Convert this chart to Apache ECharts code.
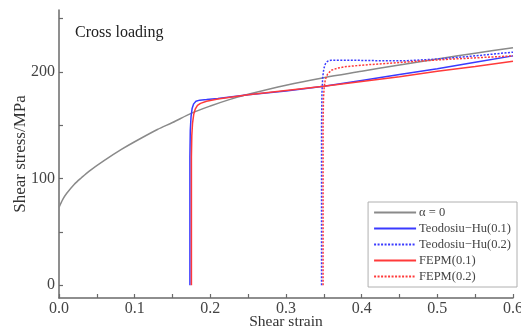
<!DOCTYPE html>
<html>
<head>
<meta charset="utf-8">
<script src="https://cdn.jsdelivr.net/npm/echarts@6/dist/echarts.min.js"></script>
<style>
  html, body { margin: 0; padding: 0; background: #fff; }
  #chart { width: 521px; height: 334px; }
</style>
</head>
<body>
<div id="chart"></div>
<script>
// values
const seriesNames = ["\u03b1 = 0", "Teodosiu\u2212Hu(0.1)", "Teodosiu\u2212Hu(0.2)", "FEPM(0.1)", "FEPM(0.2)"];

const alphaStrain = [0, 0.005, 0.01, 0.02, 0.03, 0.04, 0.06, 0.083, 0.1, 0.13, 0.15, 0.176, 0.2, 0.225, 0.25, 0.3, 0.35, 0.4, 0.45, 0.5, 0.55, 0.6];
const alphaStress = [73, 80.5, 86, 94.5, 101, 107, 117, 127.5, 134.5, 146, 152.5, 161.5, 168, 174, 179, 187.5, 194.5, 200.5, 206.5, 212, 217.5, 222.5];

const thu1Strain = [0.173, 0.173, 0.1735, 0.1745, 0.176, 0.178, 0.181, 0.186, 0.195, 0.21, 0.25, 0.3, 0.35, 0.4, 0.45, 0.5, 0.55, 0.6];
const thu1Stress = [0, 120, 145, 158, 166, 170, 172.5, 173.5, 174, 175, 178.5, 182, 186.5, 192, 197.5, 203, 209, 215];

const thu2Strain = [0.347, 0.347, 0.3475, 0.3485, 0.35, 0.352, 0.355, 0.36, 0.38, 0.42, 0.46, 0.5, 0.55, 0.6];
const thu2Stress = [0, 150, 180, 195, 203, 207.5, 210, 211, 211, 210.5, 210.5, 212, 215, 218.5];

const fepm1Strain = [0.175, 0.175, 0.1755, 0.1765, 0.178, 0.18, 0.183, 0.187, 0.195, 0.21, 0.25, 0.3, 0.35, 0.4, 0.45, 0.5, 0.55, 0.6];
const fepm1Stress = [0, 120, 140, 152, 160, 165, 168.5, 170.5, 172.5, 174.5, 178.5, 182.5, 186.5, 191, 195.5, 200.5, 205, 210];

const fepm2Strain = [0.349, 0.349, 0.3495, 0.3505, 0.352, 0.355, 0.36, 0.368, 0.38, 0.41, 0.45, 0.48, 0.52, 0.56, 0.6];
const fepm2Stress = [0, 150, 175, 186, 193, 198, 201.5, 203.5, 205, 206.8, 208.7, 210.3, 212, 213.5, 215];

const xTicks = [0, 0.05, 0.1, 0.15, 0.2, 0.25, 0.3, 0.35, 0.4, 0.45, 0.5, 0.55, 0.6];
const xLabels = [0, 0.1, 0.2, 0.3, 0.4, 0.5, 0.6];
const yTicks = [0, 50, 100, 150, 200, 250];
const yLabels = [0, 100, 200];

const zip = (xs, ys) => xs.map((x, i) => [x, ys[i]]);

const serif = "Liberation Serif";
const axisColor = "#6a6a6a";

function line(name, xs, ys, color, dashed, smooth) {
  return {
    name: name,
    type: "line",
    data: zip(xs, ys),
    symbol: "none",
    showSymbol: false,
    smooth: smooth ? 0.3 : false,
    animation: false,
    lineStyle: {
      color: color,
      width: 1.5,
      type: dashed ? [2, 1.5] : "solid",
    },
    itemStyle: { color: color },
  };
}

const chart = echarts.init(document.getElementById("chart"));
chart.setOption({
  animation: false,
  backgroundColor: "#fff",
  grid: { left: 59, right: 8, top: 10, bottom: 36, outerBoundsMode: "none", containLabel: false },
  legend: {
    orient: "vertical",
    right: 4,
    top: 202,
    data: seriesNames,
    backgroundColor: "#fff",
    borderColor: "#b0b0b0",
    borderWidth: 1,
    padding: [4, 6, 4, 5],
    itemWidth: 42,
    itemHeight: 12,
    itemGap: 3,
    itemStyle: { opacity: 0 },
    lineStyle: { width: 2 },
    textStyle: { fontFamily: serif, fontSize: 12.5, color: "#444", padding: [0, 0, 0, -2] },
  },
  graphic: [
    {
      type: "text",
      left: 75,
      top: 25,
      style: { text: "Cross loading", font: "16px " + serif, fill: "#222" },
    },
  ],
  xAxis: {
    type: "value",
    min: 0,
    max: 0.6,
    name: "Shear strain",
    nameLocation: "middle",
    nameGap: 16,
    nameMoveOverlap: false,
    nameTextStyle: { fontFamily: serif, fontSize: 15.5, color: "#333" },
    axisLine: { onZero: false, lineStyle: { color: axisColor, width: 1.5 } },
    axisTick: { inside: true, length: 4, customValues: xTicks, lineStyle: { color: axisColor, width: 1.2 } },
    axisLabel: {
      customValues: xLabels,
      formatter: (v) => v.toFixed(1),
      fontFamily: serif,
      fontSize: 16,
      color: "#444",
      margin: 3,
    },
    splitLine: { show: false },
  },
  yAxis: {
    type: "value",
    min: -12,
    max: 258,
    name: "Shear stress/MPa",
    nameLocation: "middle",
    nameGap: 30,
    nameMoveOverlap: false,
    nameTextStyle: { fontFamily: serif, fontSize: 17, color: "#333" },
    axisLine: { show: true, onZero: false, lineStyle: { color: axisColor, width: 1.5 } },
    axisTick: { show: true, inside: true, length: 4, customValues: yTicks, lineStyle: { color: axisColor, width: 1.2 } },
    axisLabel: {
      customValues: yLabels,
      fontFamily: serif,
      fontSize: 16,
      color: "#444",
      margin: 4,
    },
    splitLine: { show: false },
  },
  series: [
    line(seriesNames[0], alphaStrain, alphaStress, "#8a8a8a", false, true),
    line(seriesNames[1], thu1Strain, thu1Stress, "#3a3aff", false, false),
    line(seriesNames[2], thu2Strain, thu2Stress, "#3a3aff", true, false),
    line(seriesNames[3], fepm1Strain, fepm1Stress, "#ff3a3a", false, false),
    line(seriesNames[4], fepm2Strain, fepm2Stress, "#ff3a3a", true, false),
  ],
});
</script>
</body>
</html>
